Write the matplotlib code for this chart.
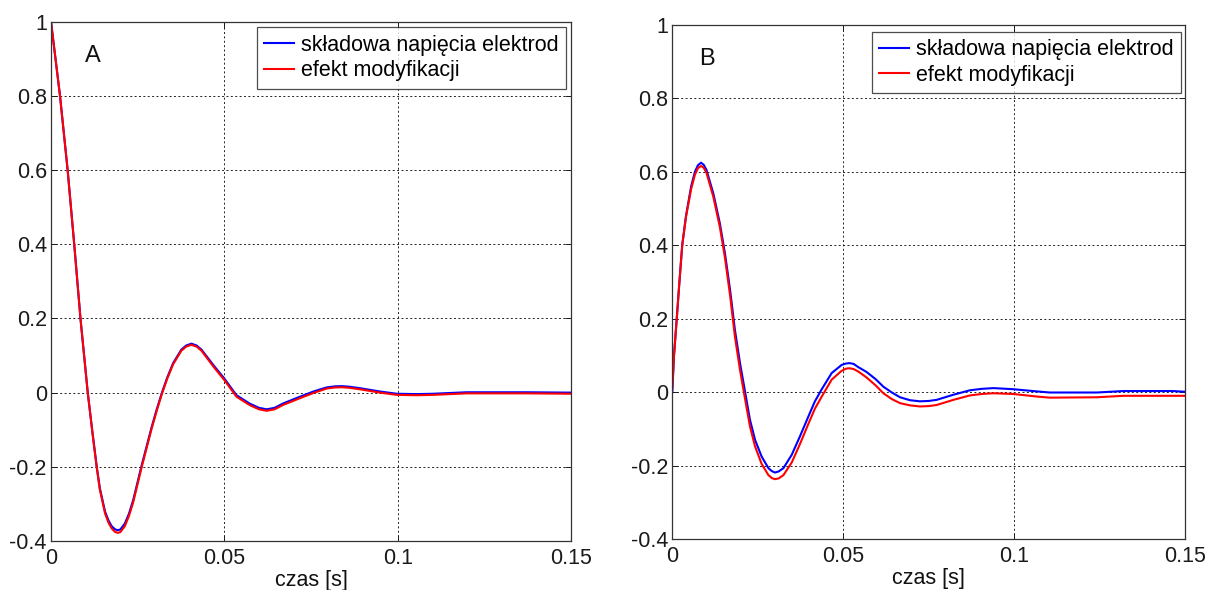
import matplotlib
matplotlib.use("Agg")
import matplotlib.pyplot as plt

plt.rcParams['font.family'] = ['Liberation Sans', 'DejaVu Sans']
plt.rcParams['axes.unicode_minus'] = False

# Panel A: time [s] and response of both signals
t_a = [0.0, 0.0013, 0.0026, 0.0048, 0.0067, 0.0085, 0.0106, 0.0120, 0.0132, 0.0141,
       0.0156, 0.0166, 0.0175, 0.0184, 0.0192, 0.0200, 0.0213, 0.0225, 0.0237, 0.0261,
       0.0290, 0.0305, 0.0320, 0.0335, 0.0352, 0.0376, 0.0390, 0.0405, 0.0420, 0.0434,
       0.0472, 0.0500, 0.0535, 0.0574, 0.0600, 0.0622, 0.0645, 0.0670, 0.0718, 0.0757,
       0.0795, 0.0820, 0.0839, 0.0860, 0.0891, 0.0949, 0.0997, 0.1055, 0.1103, 0.1151,
       0.1199, 0.1372, 0.1500]
a_electrode = [1.0, 0.90, 0.80, 0.60, 0.40, 0.20, 0.0, -0.110, -0.200, -0.258,
               -0.321, -0.345, -0.360, -0.368, -0.371, -0.369, -0.353, -0.326, -0.290, -0.198,
               -0.094, -0.045, 0.0, 0.040, 0.079, 0.116, 0.127, 0.132, 0.127, 0.116,
               0.070, 0.038, -0.007, -0.030, -0.041, -0.045, -0.041, -0.029, -0.011, 0.003,
               0.014, 0.017, 0.0175, 0.016, 0.012, 0.003, -0.003, -0.004, -0.003, -0.001,
               0.001, 0.001, 0.0]
a_modified = [1.0, 0.90, 0.80, 0.60, 0.40, 0.20, 0.0, -0.112, -0.203, -0.262,
              -0.326, -0.351, -0.366, -0.375, -0.378, -0.376, -0.360, -0.332, -0.296, -0.203,
              -0.098, -0.049, -0.003, 0.037, 0.076, 0.113, 0.124, 0.129, 0.124, 0.113,
              0.066, 0.034, -0.011, -0.034, -0.045, -0.049, -0.045, -0.033, -0.015, -0.001,
              0.011, 0.014, 0.0145, 0.013, 0.009, 0.000, -0.006, -0.007, -0.006, -0.004,
              -0.002, -0.002, -0.003]

# Panel B
t_b = [0.0, 0.0005, 0.0013, 0.0020, 0.0029, 0.0040, 0.0055, 0.0066, 0.0075, 0.0084,
       0.0092, 0.0100, 0.0120, 0.0139, 0.0154, 0.0169, 0.0183, 0.0198, 0.0213, 0.0227,
       0.0242, 0.0261, 0.0281, 0.0291, 0.0300, 0.0311, 0.0325, 0.0349, 0.0373, 0.0398,
       0.0417, 0.0437, 0.0466, 0.0495, 0.0508, 0.0518, 0.0530, 0.0544, 0.0568, 0.0595,
       0.0617, 0.0642, 0.0666, 0.0695, 0.0724, 0.0750, 0.0773, 0.0822, 0.0870, 0.0905,
       0.0939, 0.0997, 0.1066, 0.1104, 0.1241, 0.1319, 0.1464, 0.1500]
b_electrode = [0.0, 0.10, 0.20, 0.29, 0.40, 0.48, 0.560, 0.600, 0.618, 0.625,
               0.619, 0.605, 0.541, 0.460, 0.378, 0.278, 0.170, 0.079, 0.0, -0.075,
               -0.130, -0.175, -0.207, -0.215, -0.219, -0.216, -0.207, -0.171, -0.121, -0.066,
               -0.025, 0.008, 0.052, 0.074, 0.078, 0.079, 0.077, 0.068, 0.055, 0.035,
               0.015, -0.001, -0.014, -0.022, -0.025, -0.024, -0.021, -0.007, 0.005, 0.009,
               0.011, 0.008, 0.002, -0.001, -0.001, 0.003, 0.003, 0.001]
b_modified = [0.01, 0.10, 0.20, 0.29, 0.40, 0.477, 0.553, 0.592, 0.610, 0.616,
              0.611, 0.597, 0.532, 0.450, 0.366, 0.263, 0.152, 0.060, -0.020, -0.093,
              -0.148, -0.195, -0.226, -0.234, -0.237, -0.235, -0.226, -0.192, -0.142, -0.086,
              -0.045, -0.012, 0.034, 0.058, 0.064, 0.065, 0.063, 0.056, 0.040, 0.018,
              -0.003, -0.019, -0.030, -0.036, -0.039, -0.038, -0.035, -0.021, -0.009, -0.005,
              -0.003, -0.005, -0.012, -0.015, -0.014, -0.010, -0.010, -0.010]

x_ticks = [0, 0.05, 0.1, 0.15]
x_tick_labels = ['0', '0.05', '0.1', '0.15']
y_ticks = [-0.4, -0.2, 0, 0.2, 0.4, 0.6, 0.8, 1]
y_tick_labels = ['-0.4', '-0.2', '0', '0.2', '0.4', '0.6', '0.8', '1']
legend_labels = ['składowa napięcia elektrod', 'efekt modyfikacji']

W, H = 1216, 590
fig = plt.figure(figsize=(W / 100, H / 100), dpi=100)
ax_a = fig.add_axes([51 / W, 49 / H, 520 / W, 519.3 / H])
ax_b = fig.add_axes([672.3 / W, 51 / H, 513 / W, 514 / H])

FS = 15.5


def style(ax, tag, tag_xy, leg_anchor):
    ax.set_xlim(0, 0.15)
    ax.set_ylim(-0.4, 1)
    ax.set_xticks(x_ticks)
    ax.set_xticklabels(x_tick_labels)
    ax.set_yticks(y_ticks)
    ax.set_yticklabels(y_tick_labels)
    ax.tick_params(direction='in', length=4, width=0.7, top=True, right=True,
                   labelsize=FS, colors='#1a1a1a')
    ax.tick_params(axis='x', pad=5)
    ax.tick_params(axis='y', pad=3)
    ax.grid(True, color='#222222', linestyle=(0, (2, 2.5)), linewidth=0.7)
    for s in ax.spines.values():
        s.set_color('#333333')
        s.set_linewidth(0.9)
    ax.set_xlabel('czas [s]', fontsize=FS, labelpad=0.5, color='#111111')
    ax.text(tag_xy[0], tag_xy[1], tag, fontsize=17, color='#111111')
    leg = ax.legend(loc='upper right', bbox_to_anchor=leg_anchor, borderaxespad=0,
                    fontsize=FS, frameon=True, fancybox=False, edgecolor='#222222',
                    handlelength=1.4, handletextpad=0.3, labelspacing=0.2,
                    borderpad=0.35)
    leg.get_frame().set_linewidth(0.9)


ax_a.plot(t_a, a_electrode, color='#0000ff', lw=1.5, label=legend_labels[0],
          solid_joinstyle='round')
ax_a.plot(t_a, a_modified, color='#ff0000', lw=1.5, label=legend_labels[1],
          solid_joinstyle='round')
style(ax_a, 'A', (0.0099, 0.891), (0.990, 0.989))

ax_b.plot(t_b, b_electrode, color='#0000ff', lw=1.5, label=legend_labels[0],
          solid_joinstyle='round')
ax_b.plot(t_b, b_modified, color='#ff0000', lw=1.5, label=legend_labels[1],
          solid_joinstyle='round')
style(ax_b, 'B', (0.0078, 0.891), (0.9916, 0.987))

fig.savefig('out.png', dpi=100, facecolor='white')
